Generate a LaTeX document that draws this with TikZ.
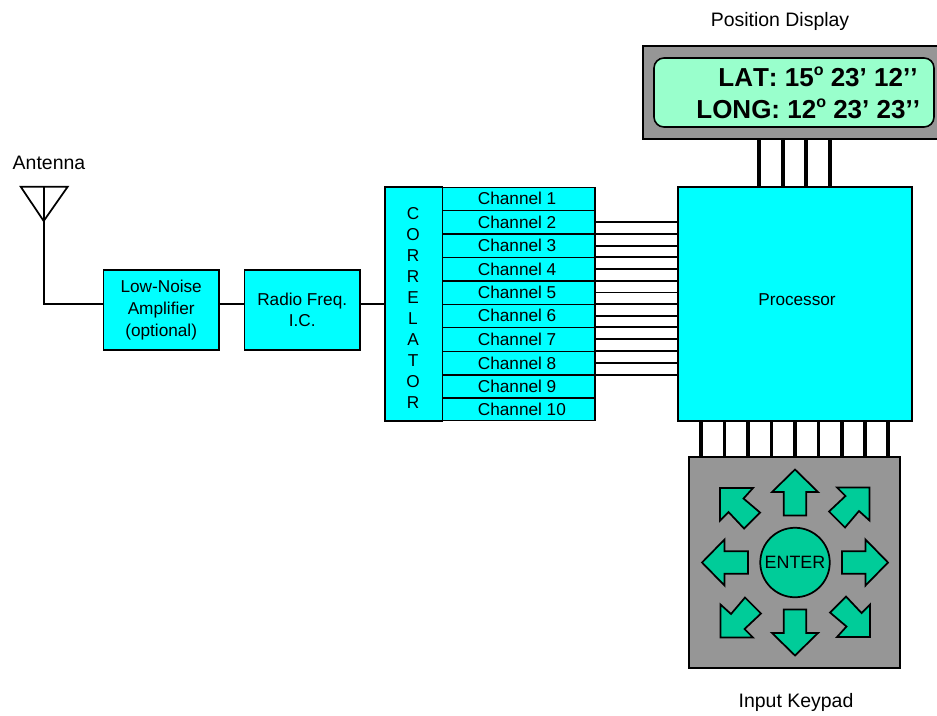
\documentclass[tikz,border=0pt]{standalone}
\usepackage{fontspec}
\setmainfont{Liberation Sans}
\newcommand{\txtfont}{\fontsize{12.9pt}{16.2pt}\selectfont}
\newcommand{\lblfont}{\fontsize{14.6pt}{17pt}\selectfont}
\newcommand{\lcdfont}{\fontsize{19.5pt}{24pt}\selectfont\bfseries\addfontfeatures{Kerning=Off}}
\newcommand{\supo}[1]{\raisebox{0.42em}{\fontsize{12pt}{12pt}\selectfont\bfseries #1}}
\definecolor{cyanbox}{HTML}{00FFFF}
\definecolor{panelgray}{HTML}{969696}
\definecolor{lcdgreen}{HTML}{99FFCC}
\definecolor{keygreen}{HTML}{00CC99}
\tikzset{
  x=0.75pt, y=-0.75pt,
  every node/.style={inner sep=0pt, outer sep=0pt, align=center, font=\txtfont, text=black},
  blk/.style={draw=black, line width=1.2pt, fill=cyanbox},
  wire/.style={draw=black, line width=1.3pt},
  thickwire/.style={draw=black, line width=2.6pt},
  panel/.style={draw=black, line width=1.4pt, fill=panelgray},
  arrowkey/.style={draw=black, line width=1.3pt, fill=keygreen, line join=miter},
  lbl/.style={font=\lblfont, anchor=base},
}
\newcommand{\chan}[3]{\node[blk, minimum width=152.5*0.75pt, minimum height=#3*0.75pt] (ch#1) at (518.7,#2) {\raisebox{-0.75pt}{\makebox[114.4pt][l]{\hspace{26.6pt}Channel #1}}};}
\begin{document}
\begin{tikzpicture}
\useasboundingbox (0,0) rectangle (937,715);
\begin{scope}
\clip (0,0) rectangle (937,715);
% Position display
\node[panel, minimum width=302*0.75pt, minimum height=93*0.75pt] (disp) at (794,92.5) {};
\end{scope}
\node[draw=black, line width=1.2pt, fill=lcdgreen, rounded corners=7.5pt, minimum width=280*0.75pt, minimum height=69*0.75pt] (lcd) at (794,92.5) {};
\node[font=\lcdfont, anchor=east] (lat) at (917.5,77) {LAT: 15\supo{o} 23’ 12’’};
\node[font=\lcdfont, anchor=east] (long) at (920,109) {LONG: 12\supo{o} 23’ 23’’};
\node[lbl] (dlabel) at (780,26) {Position Display};
% Processor
\node[blk, minimum width=234*0.75pt, minimum height=234*0.75pt] (proc) at (795,304) {\raisebox{6pt}{\hspace{3pt}Processor}};
\foreach \x in {759,783,806,830}
  \draw[thickwire] (\x,0 |- disp.south) -- (\x,0 |- proc.north);
% Keypad
\node[panel, minimum width=211*0.75pt, minimum height=211*0.75pt] (keys) at (794.5,562.5) {};
\foreach \x in {701,724.5,748,771.5,795,818.5,842,865,888}
  \draw[thickwire] (\x,0 |- proc.south) -- (\x,0 |- keys.north);
\node[lbl] (klabel) at (796,707.5) {Input Keypad};
\node[circle, draw=black, line width=1.3pt, fill=keygreen, minimum size=69.5*0.75pt, font=\fontsize{13.4pt}{16pt}\selectfont] (enter) at (795,562.5) {\raisebox{-0.75pt}{ENTER}};
\begin{scope}[shift={(enter.center)}]
  \foreach \a in {0,90,180,270}
    \draw[arrowkey, rotate=\a] (0,-93) -- (23,-70.5) -- (11.3,-70.5) -- (11.3,-47) -- (-11.3,-47) -- (-11.3,-70.5) -- (-23,-70.5) -- cycle;
  \foreach \a in {0,90,180,270}
    \draw[arrowkey, rotate=\a] (-75,-74.5) -- (-42,-74.5) -- (-51.5,-64) -- (-35,-50) -- (-51,-34) -- (-66.5,-50.5) -- (-75,-42) -- cycle;
\end{scope}
% Correlator
\node[blk, minimum width=57.5*0.75pt, minimum height=233.5*0.75pt] (corr) at (413.7,304) {};
\foreach \ltr [count=\i from 0] in {C,O,R,R,E,L,A,T,O,R}
  \node (corrl\i) at (413,213.3+\i*21) {\ltr};
% Channels
\chan{1}{198.8}{23}
\chan{2}{222.2}{23.7}
\chan{3}{245.7}{23.3}
\chan{4}{269}{23.4}
\chan{5}{292.5}{23.6}
\chan{6}{315.8}{23}
\chan{7}{339.3}{24}
\chan{8}{363.2}{23.7}
\chan{9}{386.5}{23}
\chan{10}{409.3}{22.7}
% Channel to processor wires
\foreach \n in {2,...,8}{
  \draw[wire] (ch\n.east) -- (ch\n.east -| proc.west);
  \draw[wire] (ch\n.south east) -- (ch\n.south east -| proc.west);
}
% Front end
\node[blk, minimum width=115.7*0.75pt, minimum height=80*0.75pt] (lna) at (161.2,310) {Low-Noise\\Amplifier\\(optional)};
\node[blk, minimum width=115.7*0.75pt, minimum height=80*0.75pt] (rf) at (302.2,310) {Radio Freq.\\I.C.};
\node[lbl] (alabel) at (49,169.5) {Antenna};
\coordinate (ta) at (20.7,186.7);
\coordinate (tb) at (67.7,186.7);
\coordinate (tip) at (43.7,221);
\coordinate (tm) at (43.7,186.7);
\coordinate (bend) at (43.7,304.3);
\draw[wire, line join=miter] (ta) -- (tb) -- (tip) -- cycle;
\draw[wire] (tm) -- (bend) -- (bend -| lna.west);
\draw[wire] (bend -| lna.east) -- (bend -| rf.west);
\draw[wire] (bend -| rf.east) -- (bend -| corr.west);
\end{tikzpicture}
\end{document}
